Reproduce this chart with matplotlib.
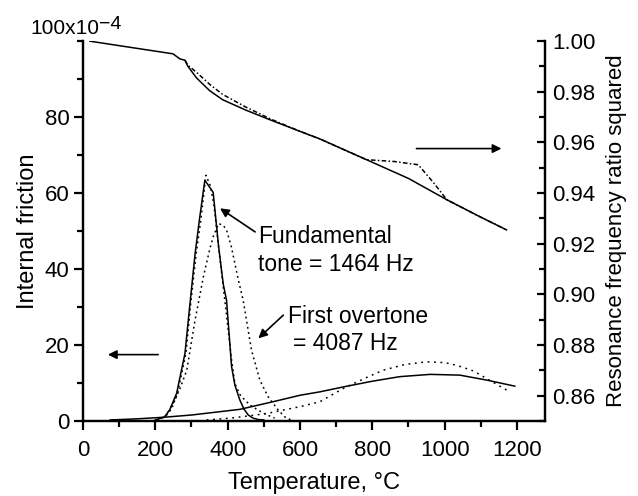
import numpy as np
import matplotlib.pyplot as plt
from matplotlib.ticker import MultipleLocator

plt.rcParams['font.family'] = ['Liberation Sans', 'DejaVu Sans']

# internal friction, units of 1e-4 (left axis)
fund_T = [200, 226, 240, 259, 282, 296, 310, 322, 337, 360, 375, 388, 397, 411, 420, 434, 445, 457, 470, 485, 500]
fund_q = [0.3, 1.1, 3.0, 7.3, 17.8, 31, 44, 53, 63.4, 60.2, 46, 36, 31.8, 14.3, 9.5, 5.5, 3.2, 1.6, 0.8, 0.4, 0.3]
fund_dot_T = [205, 228, 245, 262, 285, 298, 313, 326, 340, 352, 362, 376, 392, 411, 420, 434, 448, 465, 484, 505, 530]
fund_dot_q = [0.3, 1.2, 3.2, 7.5, 18, 31, 44, 53, 64.7, 62, 57, 45, 32, 16, 9.9, 7.0, 5.5, 4.0, 2.9, 1.8, 0.8]
over_T = [200, 230, 254, 270, 287, 310, 333, 350, 360, 375, 388, 397, 410, 430, 443, 466, 489, 512, 540, 558, 575]
over_q = [0.2, 1.5, 5.5, 9.0, 13.4, 26.6, 38, 45, 48.5, 52, 51.5, 50.3, 46, 37, 31.8, 18.7, 10.8, 6.4, 2.9, 1.1, 0.3]
broad_T = [75, 150, 222, 300, 434, 530, 600, 655, 720, 800, 876, 960, 1042, 1116, 1194]
broad_q = [0.3, 0.6, 1.0, 1.6, 3.1, 5.2, 6.8, 7.7, 9.0, 10.5, 11.7, 12.3, 12.1, 10.8, 9.2]
broad_dot_T = [342, 420, 508, 600, 655, 720, 780, 830, 890, 950, 1000, 1033, 1080, 1116, 1180]
broad_dot_q = [0.3, 0.9, 2.0, 3.8, 5.1, 8.6, 11.3, 13.4, 14.9, 15.6, 15.4, 14.7, 13.2, 11.2, 7.7]

# resonance frequency ratio squared (right axis)
ratio_T = [19, 249, 268, 282, 290, 314, 350, 386, 450, 520, 600, 655, 784, 900, 1006, 1100, 1171]
ratio_r = [1.000, 0.9950, 0.9930, 0.9925, 0.9901, 0.9855, 0.9805, 0.9769, 0.9728, 0.9688, 0.9644, 0.9614, 0.9532, 0.9458, 0.9374, 0.9305, 0.9255]
ratio_dot_T = [282, 290, 314, 350, 386, 450, 520, 600, 655, 784, 860, 927, 970, 1006, 1100, 1167]
ratio_dot_r = [0.9925, 0.9905, 0.9877, 0.9830, 0.9790, 0.9740, 0.9692, 0.9644, 0.9614, 0.9532, 0.9525, 0.9512, 0.9440, 0.9374, 0.9305, 0.9258]

fig = plt.figure(figsize=(6.38, 4.96), dpi=100)
ax = fig.add_axes([0.130, 0.151, 0.724, 0.766])
ax2 = ax.twinx()

lw = 1.1
ax.plot(fund_T, fund_q, color='black', lw=lw)
ax.plot(fund_dot_T, fund_dot_q, color='black', lw=lw, ls=(0, (1.2, 2.2)))
ax.plot(over_T, over_q, color='black', lw=lw, ls=(0, (1.2, 2.2)))
ax.plot(broad_T, broad_q, color='black', lw=lw)
ax.plot(broad_dot_T, broad_dot_q, color='black', lw=lw, ls=(0, (1.2, 3.0)))

ax2.plot(ratio_T, ratio_r, color='black', lw=lw)
ax2.plot(ratio_dot_T, ratio_dot_r, color='black', lw=lw, ls=(0, (3, 1.5, 1, 1.5)))

ax.set_xlim(0, 1277)
ax.set_ylim(0, 100)
ax2.set_ylim(0.85, 1.00)

ax.xaxis.set_major_locator(MultipleLocator(200))
ax.xaxis.set_minor_locator(MultipleLocator(100))
ax.set_yticks([0, 20, 40, 60, 80])
ax.yaxis.set_minor_locator(MultipleLocator(10))
ax2.set_yticks([0.86, 0.88, 0.90, 0.92, 0.94, 0.96, 0.98, 1.00])
ax2.set_yticklabels(['0.86', '0.88', '0.90', '0.92', '0.94', '0.96', '0.98', '1.00'])
ax2.yaxis.set_minor_locator(MultipleLocator(0.01))

for a in (ax, ax2):
    a.spines['top'].set_visible(False)
    for s in a.spines.values():
        s.set_linewidth(1.6)
ax.tick_params(axis='both', which='major', direction='out', length=6.5, width=1.6, labelsize=16, pad=3)
ax.tick_params(axis='x', which='major', pad=7)
ax.tick_params(axis='both', which='minor', direction='out', length=4, width=1.6)
ax2.tick_params(axis='y', which='major', direction='in', length=6, width=1.6, labelsize=16, pad=5)
ax2.tick_params(axis='y', which='minor', direction='in', length=4.5, width=1.6)

ax.set_xlabel('Temperature, \u00b0C', fontsize=17, labelpad=8)
ax.set_ylabel('Internal friction', fontsize=17, labelpad=4)
ax2.set_ylabel('Resonance frequency ratio squared', fontsize=16, labelpad=8)

fig.text(30 / 638, 1 - 34 / 496, '100x10', fontsize=15, ha='left', va='baseline')
fig.text(99 / 638, 1 - 29 / 496, '\u22124', fontsize=14, ha='left', va='baseline')

aprops = dict(arrowstyle='-|>', color='black', lw=1.2, mutation_scale=13, shrinkA=0, shrinkB=0)
ax.annotate('', xy=(379, 56), xytext=(476, 49.8), arrowprops=aprops)
ax.text(484, 47, 'Fundamental', fontsize=16.5)
ax.text(484, 39.6, 'tone = 1464 Hz', fontsize=16.5)
ax.annotate('', xy=(485, 21.8), xytext=(554, 27.9), arrowprops=aprops)
ax.text(568, 25.7, 'First overtone', fontsize=16.5)
ax.text(580, 18.7, '= 4087 Hz', fontsize=16.5)
ax.annotate('', xy=(69, 17.5), xytext=(208, 17.5), arrowprops=aprops)
ax2.annotate('', xy=(1157, 0.9576), xytext=(922, 0.9576), arrowprops=aprops)

fig.savefig('out.png', dpi=100)
